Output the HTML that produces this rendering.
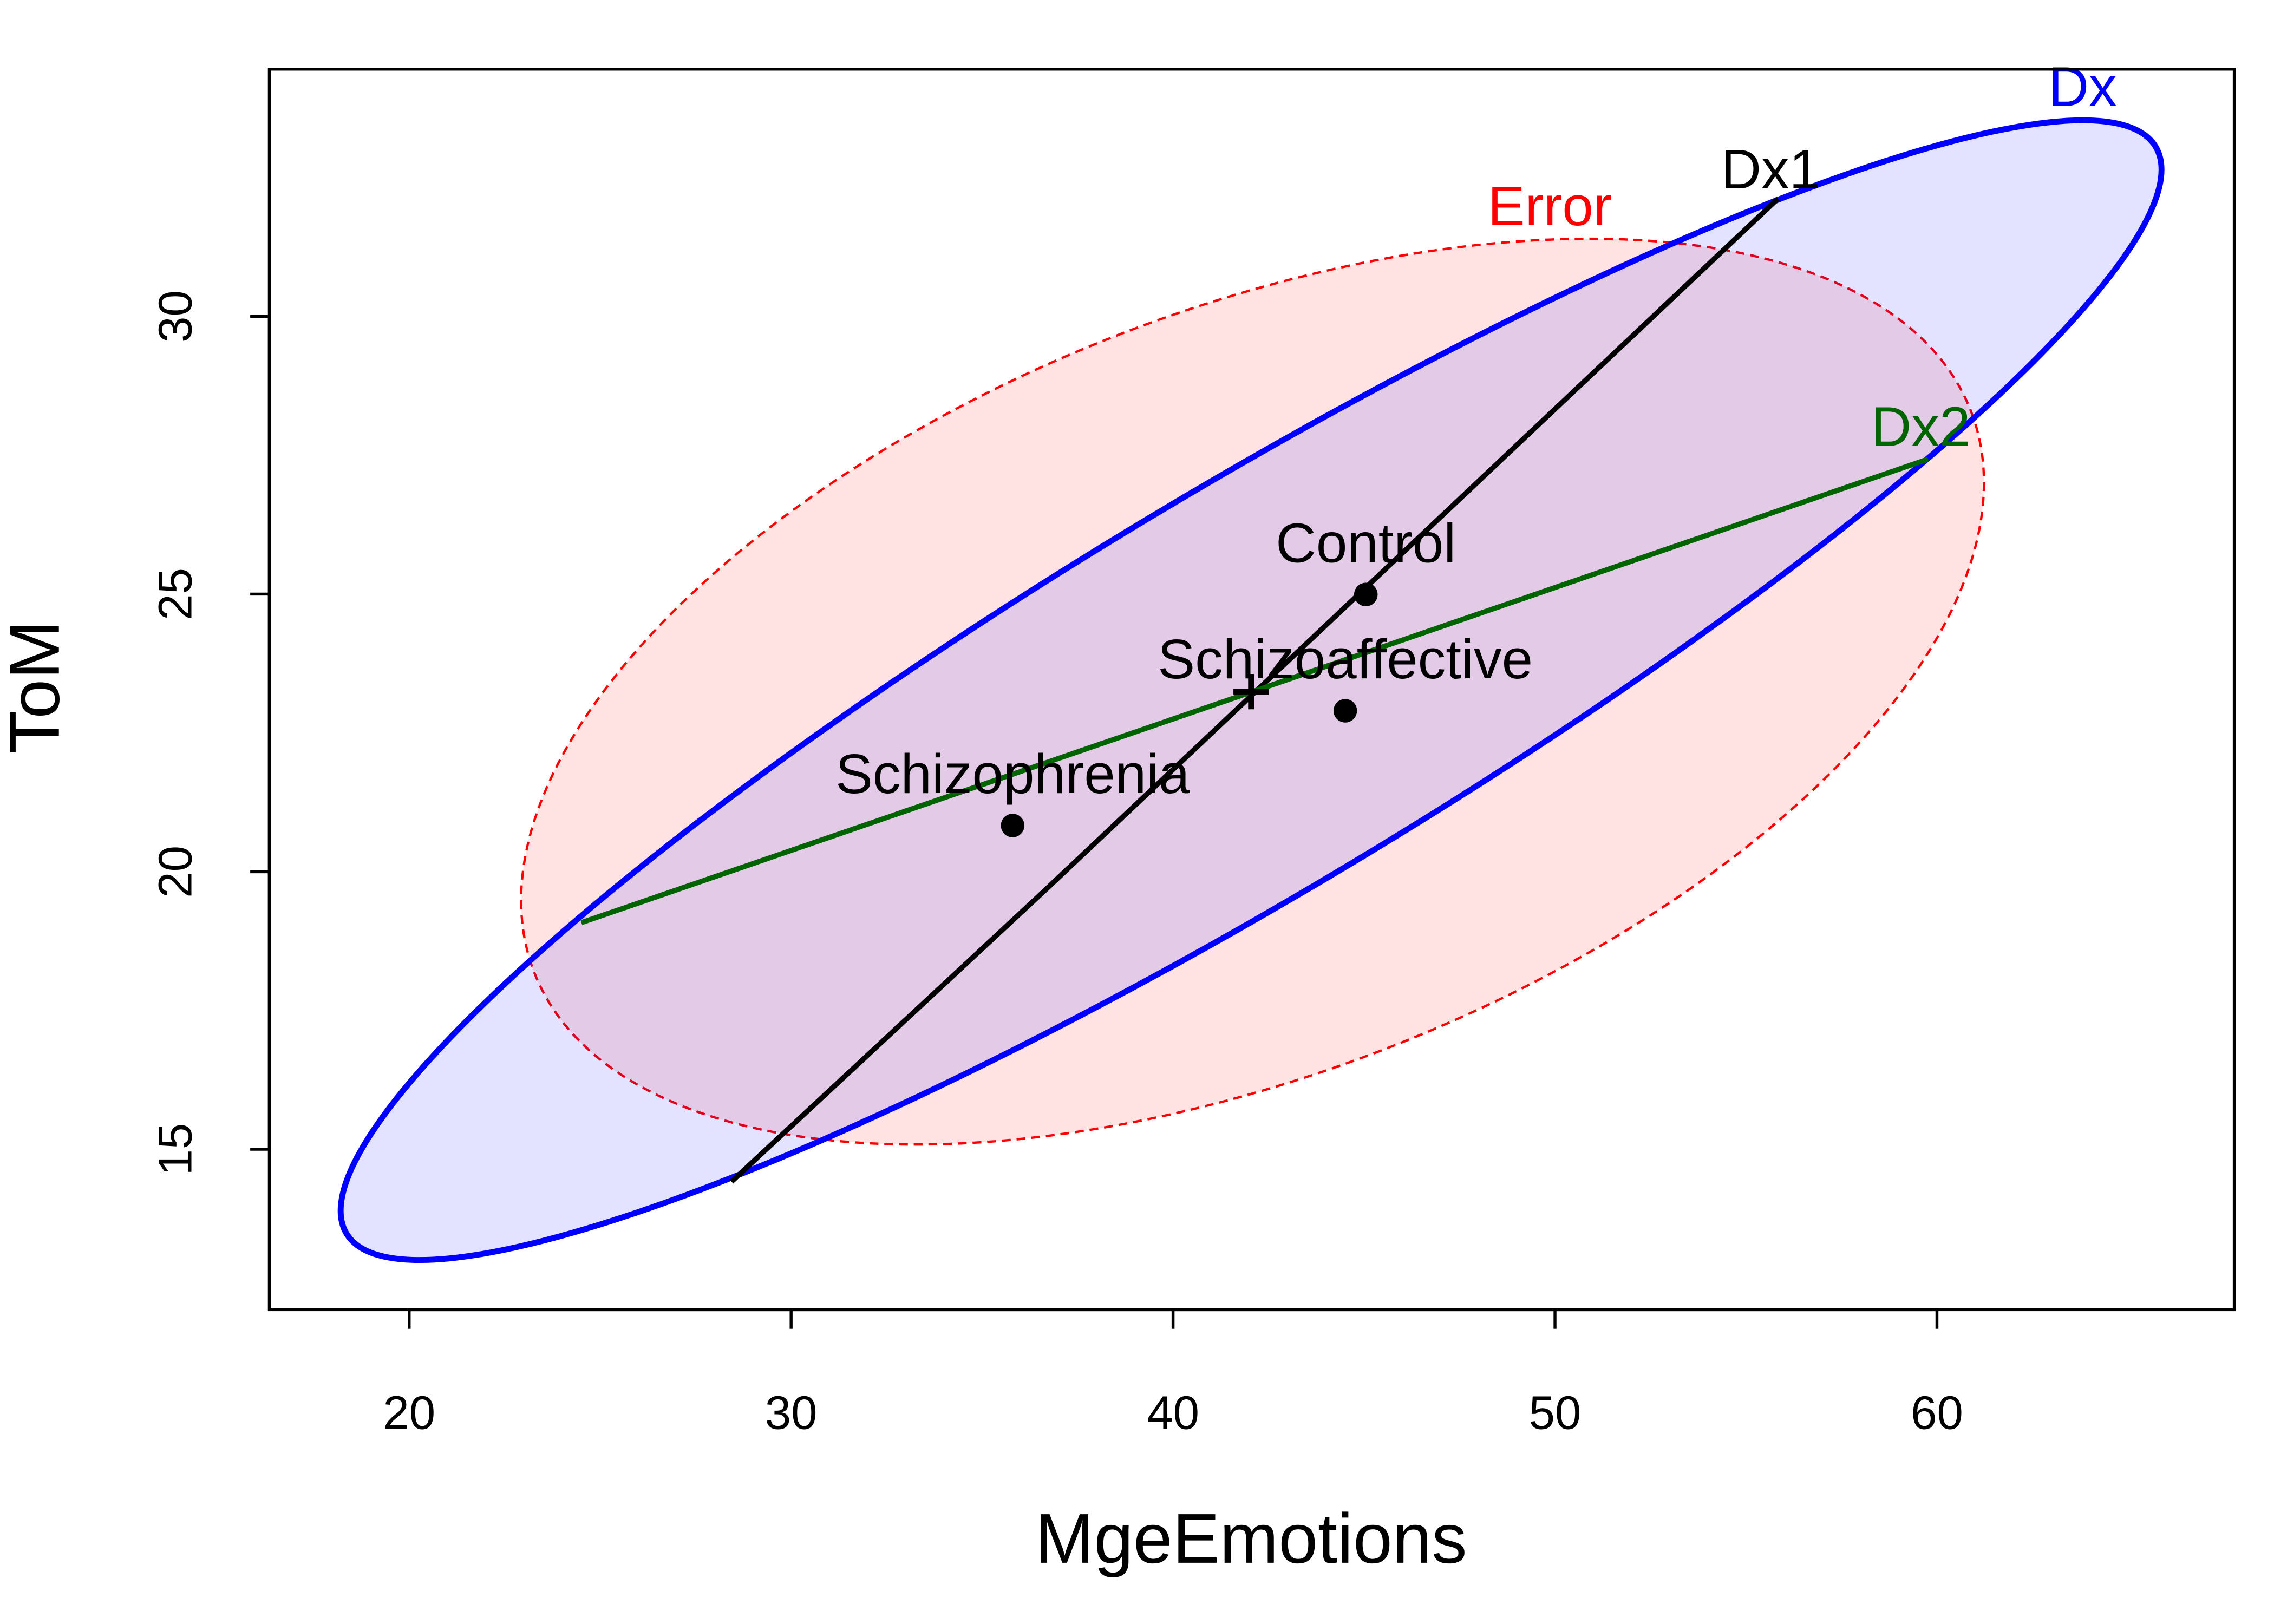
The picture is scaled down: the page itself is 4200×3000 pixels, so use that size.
<!DOCTYPE html>
<html><head><style>html,body{margin:0;padding:0;background:#fff}svg{display:block}</style></head>
<body>
<svg width="4200" height="3000" viewBox="0 0 1545 1103.6" preserveAspectRatio="none" xmlns="http://www.w3.org/2000/svg" font-family="Liberation Sans, Arial, sans-serif">
<rect x="0" y="0" width="1545" height="1104" fill="#fff"/>
<ellipse cx="851" cy="470" rx="524" ry="259" transform="rotate(-21.4 851 470)" fill="#ff0000" fill-opacity="0.11" stroke="#ff0000" stroke-width="1.6" stroke-dasharray="6,4"/>
<ellipse cx="850" cy="469" rx="717" ry="136" transform="rotate(-31 850 469)" fill="#0000ff" fill-opacity="0.11" stroke="#0000ff" stroke-width="4"/>
<polyline points="497,803 710,605 1208,135" fill="none" stroke="#000" stroke-width="3.5"/>
<line x1="395" y1="627" x2="1310" y2="312" stroke="#006400" stroke-width="3.5"/>
<circle cx="928" cy="404" r="8" fill="#000"/>
<circle cx="914" cy="483" r="8" fill="#000"/>
<circle cx="688" cy="561" r="8" fill="#000"/>
<path d="M838 470 H862 M850 458 V482" stroke="#000" stroke-width="4"/>
<g font-size="38" text-anchor="middle">
<text x="928" y="382">Control</text>
<text x="914" y="461">Schizoaffective</text>
<text x="688" y="539">Schizophrenia</text>
<text x="1053" y="153" fill="#ff0000">Error</text>
<text x="1203" y="128">Dx1</text>
<text x="1305" y="303" fill="#006400">Dx2</text>
<text x="1415" y="72" fill="#0000ff">Dx</text>
</g>
<rect x="183" y="47" width="1335" height="843" fill="none" stroke="#000" stroke-width="2"/>
<g stroke="#000" stroke-width="2">
<line x1="278" y1="890" x2="1316" y2="890"/>
<line x1="278" y1="890" x2="278" y2="903"/>
<line x1="537.5" y1="890" x2="537.5" y2="903"/>
<line x1="797" y1="890" x2="797" y2="903"/>
<line x1="1056.5" y1="890" x2="1056.5" y2="903"/>
<line x1="1316" y1="890" x2="1316" y2="903"/>
<line x1="183" y1="215" x2="183" y2="781"/>
<line x1="170" y1="781" x2="183" y2="781"/>
<line x1="170" y1="592.4" x2="183" y2="592.4"/>
<line x1="170" y1="403.7" x2="183" y2="403.7"/>
<line x1="170" y1="215" x2="183" y2="215"/>
</g>
<g font-size="32" text-anchor="middle">
<text x="278" y="971">20</text>
<text x="537.5" y="971">30</text>
<text x="797" y="971">40</text>
<text x="1056.5" y="971">50</text>
<text x="1316" y="971">60</text>
<text transform="translate(130 781) rotate(-90)">15</text>
<text transform="translate(130 592.4) rotate(-90)">20</text>
<text transform="translate(130 403.7) rotate(-90)">25</text>
<text transform="translate(130 215) rotate(-90)">30</text>
</g>
<text x="850" y="1062" font-size="48" text-anchor="middle">MgeEmotions</text>
<text transform="translate(40 467) rotate(-90)" font-size="48" text-anchor="middle">ToM</text>
</svg>
</body></html>
